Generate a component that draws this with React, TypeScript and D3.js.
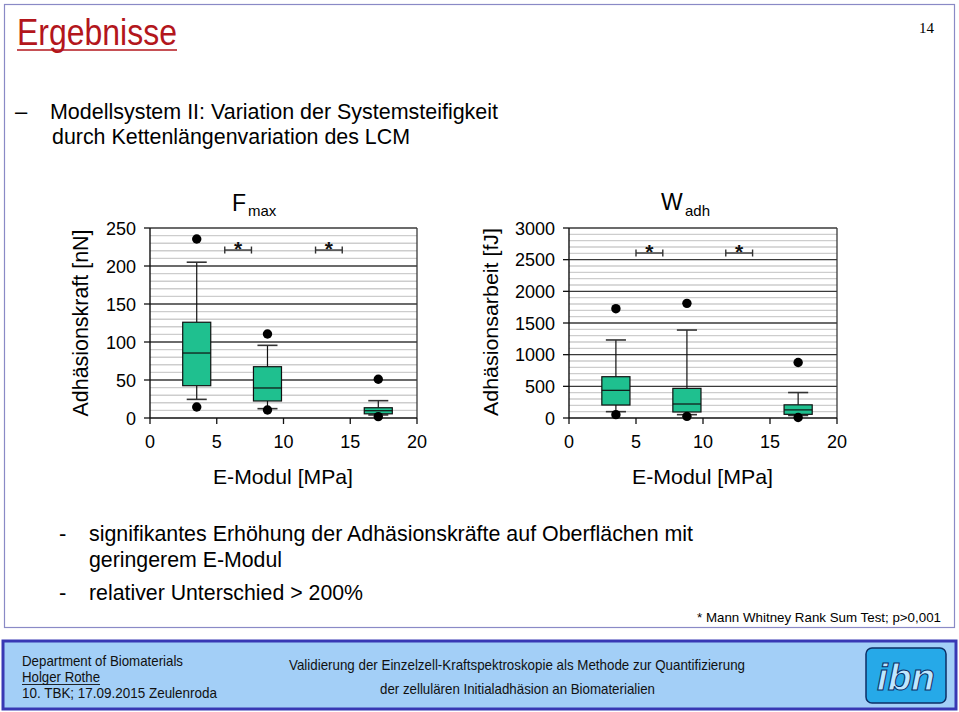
import React from "react";
import * as d3 from "d3";

// E-Modul positions of the three surfaces [MPa]
const positions = [3.5, 8.8, 17.1];
const xTicks = [0, 5, 10, 15, 20];

// F_max box statistics [nN]
const fmaxWhiskerLow = [24.5, 12.3, 4];
const fmaxQ1 = [42.5, 22.4, 5.5];
const fmaxMedian = [85.5, 39.5, 9.6];
const fmaxQ3 = [126, 67.5, 13.5];
const fmaxWhiskerHigh = [205, 95.6, 22.8];
const fmaxOutliers = [[14.5, 235.5], [10.5, 110.5], [1.8, 51]];
const fmaxTicks = [0, 50, 100, 150, 200, 250];
const fmaxSig = [[5.6, 7.6], [12.4, 14.4]];

// W_adh box statistics [fJ]
const wadhWhiskerLow = [100, 53, 40];
const wadhQ1 = [205, 95, 58];
const wadhMedian = [437, 221, 128];
const wadhQ3 = [652, 468, 208];
const wadhWhiskerHigh = [1232, 1389, 402];
const wadhOutliers = [[53, 1726], [26, 1810], [8, 876]];
const wadhTicks = [0, 500, 1000, 1500, 2000, 2500, 3000];
const wadhSig = [[5.0, 7.0], [11.7, 13.7]];

const FONT = "'Liberation Sans', Arial, sans-serif";
const BOX_FILL = "#1fc08f";

type PanelProps = {
  x0: number; x1: number; y0: number; y1: number;
  wLo: number[]; q1: number[]; med: number[]; q3: number[]; wHi: number[];
  outliers: number[][]; ticks: number[]; minorStep: number; sig: number[][];
  sigY: number;
};

function BoxPanel(p: PanelProps) {
  const max = p.ticks[p.ticks.length - 1];
  const x = d3.scaleLinear().domain([0, 20]).range([p.x0, p.x1]);
  const y = d3.scaleLinear().domain([0, max]).range([p.y1, p.y0]);
  const minor = d3.range(p.minorStep, max, p.minorStep).filter((v) => !p.ticks.includes(v));
  const boxHalf = 1.05;
  const capHalf = 0.75;
  return (
    <g fontFamily={FONT}>
      {minor.map((v) => (
        <line key={"m" + v} x1={p.x0} x2={p.x1} y1={y(v)} y2={y(v)} stroke="#cdcdcd" strokeWidth={1.4} />
      ))}
      {p.ticks.slice(1).map((v) => (
        <line key={"g" + v} x1={p.x0} x2={p.x1} y1={y(v)} y2={y(v)} stroke="#3a3a3a" strokeWidth={1.3} />
      ))}
      <line x1={p.x1} x2={p.x1} y1={p.y0} y2={p.y1} stroke="#3a3a3a" strokeWidth={1.3} />
      <line x1={p.x0} x2={p.x0} y1={p.y0} y2={p.y1} stroke="#111" strokeWidth={1.4} />
      <line x1={p.x0} x2={p.x1} y1={p.y1} y2={p.y1} stroke="#111" strokeWidth={1.4} />
      {p.ticks.map((v) => (
        <g key={"yt" + v}>
          <line x1={p.x0 - 6} x2={p.x0} y1={y(v)} y2={y(v)} stroke="#111" strokeWidth={1.3} />
          <text x={p.x0 - 14} y={y(v) + 6.5} textAnchor="end" fontSize={18}>{v}</text>
        </g>
      ))}
      {xTicks.map((v) => (
        <g key={"xt" + v}>
          <line x1={x(v)} x2={x(v)} y1={p.y1} y2={p.y1 + 6} stroke="#111" strokeWidth={1.3} />
          <text x={x(v)} y={p.y1 + 30} textAnchor="middle" fontSize={18}>{v}</text>
        </g>
      ))}
      {positions.map((pos, i) => (
        <g key={"b" + i}>
          <line x1={x(pos)} x2={x(pos)} y1={y(p.wHi[i])} y2={y(p.q3[i])} stroke="#111" strokeWidth={1.2} />
          <line x1={x(pos)} x2={x(pos)} y1={y(p.q1[i])} y2={y(p.wLo[i])} stroke="#111" strokeWidth={1.2} />
          <line x1={x(pos - capHalf)} x2={x(pos + capHalf)} y1={y(p.wHi[i])} y2={y(p.wHi[i])} stroke="#333" strokeWidth={1.6} />
          <line x1={x(pos - capHalf)} x2={x(pos + capHalf)} y1={y(p.wLo[i])} y2={y(p.wLo[i])} stroke="#333" strokeWidth={1.6} />
          <rect x={x(pos - boxHalf)} y={y(p.q3[i])} width={x(pos + boxHalf) - x(pos - boxHalf)}
            height={y(p.q1[i]) - y(p.q3[i])} fill={BOX_FILL} stroke="#111" strokeWidth={1.2} />
          <line x1={x(pos - boxHalf)} x2={x(pos + boxHalf)} y1={y(p.med[i])} y2={y(p.med[i])} stroke="#111" strokeWidth={1.2} />
          {p.outliers[i].map((o, j) => (
            <circle key={j} cx={x(pos)} cy={y(o)} r={4.7} fill="#000" />
          ))}
        </g>
      ))}
      {p.sig.map(([a, b], i) => (
        <g key={"s" + i} stroke="#333" strokeWidth={1.4}>
          <line x1={x(a)} x2={x(b)} y1={y(p.sigY)} y2={y(p.sigY)} />
          <line x1={x(a)} x2={x(a)} y1={y(p.sigY) - 3.5} y2={y(p.sigY) + 3.5} />
          <line x1={x(b)} x2={x(b)} y1={y(p.sigY) - 3.5} y2={y(p.sigY) + 3.5} />
          <text x={(x(a) + x(b)) / 2} y={y(p.sigY) + 6} textAnchor="middle" fontSize={21} fontWeight="bold" stroke="none" fill="#111">*</text>
        </g>
      ))}
    </g>
  );
}

export default function App() {
  return (
    <div style={{ position: "absolute", left: 0, top: 0 }}>
      <svg width={959} height={712} style={{ display: "block", background: "#fff" }} fontFamily={FONT}>
        <rect x={4.5} y={4.5} width={950} height={623} fill="none" stroke="#8a8ac6" strokeWidth={1.2} />

        <text x={17} y={45} fontSize={36} fill="#b3161c" textLength={160} lengthAdjust="spacingAndGlyphs">Ergebnisse</text>
        <line x1={17} x2={177} y1={50} y2={50} stroke="#b3161c" strokeWidth={1.6} />
        <text x={934} y={33} fontSize={15} textAnchor="end" fontFamily="'Liberation Serif', 'Times New Roman', serif">14</text>

        <text x={15} y={119} fontSize={22}>–</text>
        <text x={50} y={119} fontSize={22} textLength={448} lengthAdjust="spacingAndGlyphs">Modellsystem II: Variation der Systemsteifigkeit</text>
        <text x={52} y={144} fontSize={22} textLength={358} lengthAdjust="spacingAndGlyphs">durch Kettenlängenvariation des LCM</text>

        {/* F_max panel */}
        <text x={232} y={211} fontSize={23}>F</text>
        <text x={248} y={216} fontSize={15}>max</text>
        <text transform="translate(88,323) rotate(-90)" textAnchor="middle" fontSize={22} textLength={187} lengthAdjust="spacingAndGlyphs">Adhäsionskraft [nN]</text>
        <BoxPanel x0={150} x1={417} y0={228} y1={418}
          wLo={fmaxWhiskerLow} q1={fmaxQ1} med={fmaxMedian} q3={fmaxQ3} wHi={fmaxWhiskerHigh}
          outliers={fmaxOutliers} ticks={fmaxTicks} minorStep={10} sig={fmaxSig} sigY={221} />
        <text x={213} y={484} fontSize={21} textLength={140} lengthAdjust="spacingAndGlyphs">E-Modul [MPa]</text>

        {/* W_adh panel */}
        <text x={661} y={210} fontSize={23}>W</text>
        <text x={685} y={216} fontSize={15}>adh</text>
        <text transform="translate(498,322) rotate(-90)" textAnchor="middle" fontSize={20} textLength={188} lengthAdjust="spacingAndGlyphs">Adhäsionsarbeit [fJ]</text>
        <BoxPanel x0={569} x1={837} y0={228} y1={418}
          wLo={wadhWhiskerLow} q1={wadhQ1} med={wadhMedian} q3={wadhQ3} wHi={wadhWhiskerHigh}
          outliers={wadhOutliers} ticks={wadhTicks} minorStep={100} sig={wadhSig} sigY={2605} />
        <text x={632} y={484} fontSize={21} textLength={141} lengthAdjust="spacingAndGlyphs">E-Modul [MPa]</text>

        {/* summary */}
        <text x={59} y={541} fontSize={22}>-</text>
        <text x={89} y={541} fontSize={22} textLength={604} lengthAdjust="spacingAndGlyphs">signifikantes Erhöhung der Adhäsionskräfte auf Oberflächen mit</text>
        <text x={89} y={567} fontSize={22} textLength={193} lengthAdjust="spacingAndGlyphs">geringerem E-Modul</text>
        <text x={59} y={600} fontSize={22}>-</text>
        <text x={89} y={600} fontSize={22} textLength={274} lengthAdjust="spacingAndGlyphs">relativer Unterschied &gt; 200%</text>
        <text x={941} y={622} fontSize={13.5} textAnchor="end" textLength={244} lengthAdjust="spacingAndGlyphs">* Mann Whitney Rank Sum Test; p&gt;0,001</text>

        {/* footer */}
        <rect x={3} y={641} width={953} height={68} fill="#a3cff7" stroke="#3838b4" strokeWidth={3} />
        <g fontSize={14.5} fill="#111">
          <text x={22} y={666} textLength={161} lengthAdjust="spacingAndGlyphs">Department of Biomaterials</text>
          <text x={22} y={682} textLength={78} lengthAdjust="spacingAndGlyphs">Holger Rothe</text>
          <line x1={22} x2={100} y1={684.5} y2={684.5} stroke="#111" strokeWidth={0.9} />
          <text x={22} y={698} textLength={195} lengthAdjust="spacingAndGlyphs">10. TBK; 17.09.2015  Zeulenroda</text>
          <text x={289} y={670} textLength={456} lengthAdjust="spacingAndGlyphs">Validierung der Einzelzell-Kraftspektroskopie als Methode zur Quantifizierung</text>
          <text x={380} y={694} textLength={275} lengthAdjust="spacingAndGlyphs">der zellulären Initialadhäsion an Biomaterialien</text>
        </g>
        <rect x={866} y={648} width={80} height={55} rx={6} fill="#26a9e8" stroke="#0c2f66" strokeWidth={1.5} />
        <text x={906} y={690} textAnchor="middle" fontSize={36} fontStyle="italic" fontWeight="bold"
          fill="#bfe7ff" stroke="#0c2f66" strokeWidth={1} textLength={58} lengthAdjust="spacingAndGlyphs">ibn</text>
      </svg>
    </div>
  );
}
